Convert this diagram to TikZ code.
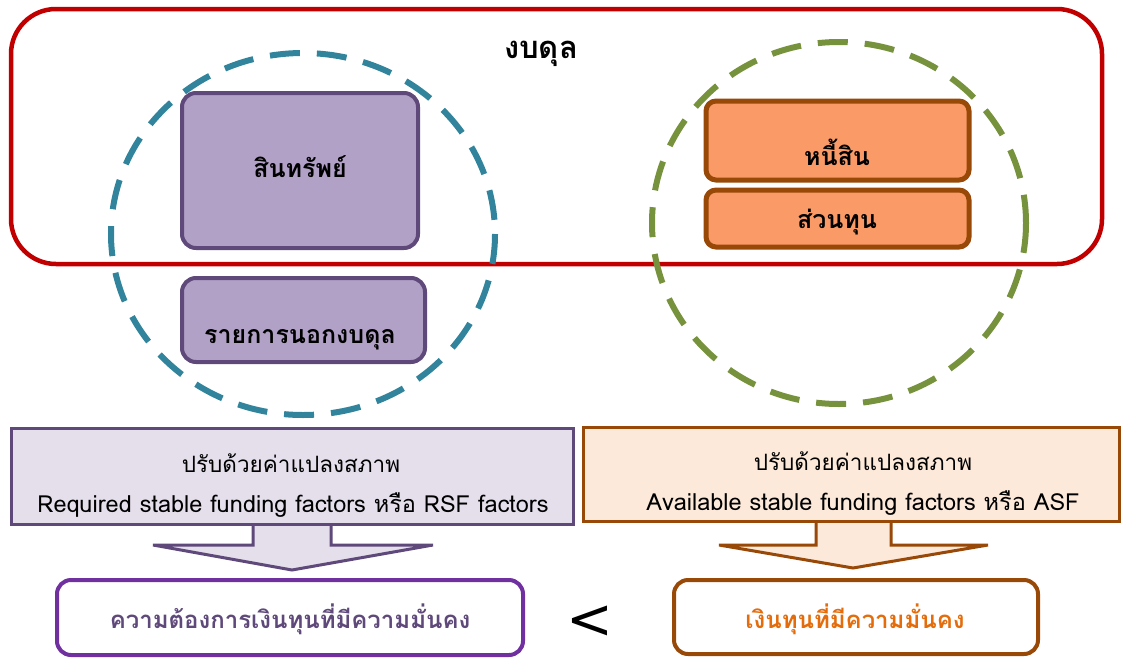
\documentclass[tikz,border=0pt]{standalone}
\usepackage{fontspec}
\newfontfamily\thaifont[Script=Thai]{Loma}
\newfontfamily\ltfont{DejaVu Sans}
\usetikzlibrary{calc}
\definecolor{rbox}{HTML}{C00000}
\definecolor{teal}{HTML}{31849B}
\definecolor{olive}{HTML}{76923C}
\definecolor{purfill}{HTML}{B2A1C7}
\definecolor{purline}{HTML}{5F497A}
\definecolor{orfill}{HTML}{FA9A66}
\definecolor{orline}{HTML}{984807}
\definecolor{lavfill}{HTML}{E5DFEC}
\definecolor{peach}{HTML}{FDE9D9}
\definecolor{violet}{HTML}{7030A0}
\definecolor{ortext}{HTML}{E46C0A}
\tikzset{
  txt/.style={font=\thaifont\fontsize{22.5}{26}\selectfont, inner sep=0pt, anchor=base},
  ltxt/.style={font=\thaifont\fontsize{23.5}{26}\selectfont, inner sep=0pt, anchor=base},
  btxt/.style={font=\thaifont\bfseries\fontsize{25}{28}\selectfont, inner sep=0pt, anchor=base},
  rtxt/.style={font=\thaifont\bfseries\fontsize{24}{28}\selectfont, inner sep=0pt, anchor=base},
  purbox/.style={draw=purline, fill=purfill, line width=4pt, rounded corners=14pt},
  orbox/.style={draw=orline, fill=orfill, line width=5pt, rounded corners=10pt},
  dashring/.style={line width=6pt, dash pattern=on 30pt off 17pt},
  plainbox/.style={line width=3pt},
  resbox/.style={line width=4pt, rounded corners=14pt, fill=white},
}
\begin{document}
\begin{tikzpicture}[x=1pt,y=-1pt]
\useasboundingbox (0,0) rectangle (1121,659);
% balance sheet frame
\draw[rbox, line width=4.5pt, rounded corners=45pt] (11,9) rectangle (1102,264);
\node[btxt, font=\thaifont\bfseries\fontsize{31}{34}\selectfont] (title) at (541,58) {งบดุล};
% dashed rings
\draw[teal, dashring] (303,234) ellipse [x radius=192, y radius=181];
\draw[olive, dashring] (839,223) ellipse [x radius=187, y radius=181];
% asset side
\draw[purbox] (182,93) rectangle (418,248);
\node[btxt] (asset) at (300,177) {สินทรัพย์};
\draw[purbox] (182,278) rectangle (425,362);
\node[btxt] (offbs) at (300,343) {รายการนอกงบดุล};
% liability side
\draw[orbox] (706,101) rectangle (969,180);
\node[btxt] (liab) at (837,165) {หนี้สิน};
\draw[orbox] (706,190) rectangle (969,247);
\node[btxt] (equity) at (837,228) {ส่วนทุน};
% left factor box + arrow
\coordinate (la) at (292,525);
\draw[purline, fill=lavfill, plainbox, line join=miter]
  ($(la)+(-39,-5)$) -- ($(la)+(-39,20)$) -- ($(la)+(-139,20)$) -- ($(la)+(0,45)$)
  -- ($(la)+(141,20)$) -- ($(la)+(39,20)$) -- ($(la)+(39,-5)$);
\node[draw=purline, fill=lavfill, plainbox, minimum width=562pt, minimum height=96pt, inner sep=0pt] (rsfbox) at (292.5,476.5) {};
\node[txt] (rsf1) at (291,472) {ปรับด้วยค่าแปลงสภาพ};
\node[ltxt] (rsf2) at (293,512) {Required stable funding factors หรือ RSF factors};
% right factor box + arrow
\coordinate (ra) at (853,522);
\draw[orline, fill=peach, plainbox, line join=miter]
  ($(ra)+(-37,-5)$) -- ($(ra)+(-37,23)$) -- ($(ra)+(-134,23)$) -- ($(ra)+(0,46)$)
  -- ($(ra)+(135,23)$) -- ($(ra)+(38,23)$) -- ($(ra)+(38,-5)$);
\node[draw=orline, fill=peach, plainbox, minimum width=536pt, minimum height=94pt, inner sep=0pt] (asfbox) at (851.5,474.5) {};
\node[txt] (asf1) at (863,470) {ปรับด้วยค่าแปลงสภาพ};
\node[ltxt] (asf2) at (863,510) {Available stable funding factors หรือ ASF};
% result boxes
\node[draw=violet, resbox, minimum width=466pt, minimum height=75pt, inner sep=0pt] (need) at (290,617.5) {};
\node[rtxt, text=purline] (needt) at (290,628) {ความต้องการเงินทุนที่มีความมั่นคง};
\node[draw=orline, resbox, minimum width=364pt, minimum height=74pt, inner sep=0pt] (avail) at (856,617) {};
\node[rtxt, text=ortext] (availt) at (855,628) {เงินทุนที่มีความมั่นคง};
\node[font=\ltfont\fontsize{56}{60}\selectfont, inner sep=0pt] (lt) at (590,622) {<};
\end{tikzpicture}
\end{document}
